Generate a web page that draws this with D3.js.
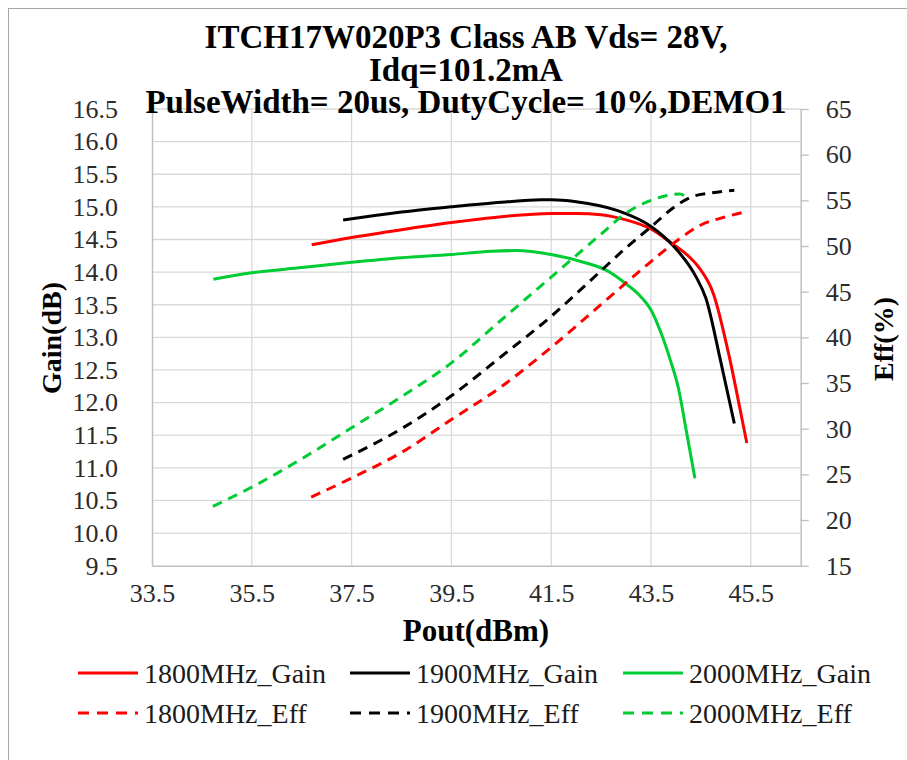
<!DOCTYPE html>
<html>
<head>
<meta charset="utf-8">
<script src="https://cdn.jsdelivr.net/npm/d3@7"></script>
<style>
    body { margin: 0; background: #fff; }
    svg { display: block; font-family: "Liberation Serif", "Times New Roman", serif; }
</style>
</head>
<body>
<div id="container"></div>
<script>
"use strict"

/* DATA
 */
const titleLines = [
    "ITCH17W020P3 Class AB Vds= 28V,",
    "Idq=101.2mA",
    "PulseWidth= 20us, DutyCycle= 10%,DEMO1"
];

const xTicks = [33.5, 35.5, 37.5, 39.5, 41.5, 43.5, 45.5];
const gainTicks = [9.5, 10.0, 10.5, 11.0, 11.5, 12.0, 12.5, 13.0, 13.5,
                   14.0, 14.5, 15.0, 15.5, 16.0, 16.5];
const effTicks = [15, 20, 25, 30, 35, 40, 45, 50, 55, 60, 65];

// [Pout dBm, Gain dB]
const gain1800 = [[36.7, 14.42], [37.5, 14.53], [38.5, 14.65], [39.5, 14.76],
                  [40.5, 14.85], [41.5, 14.90], [42.0, 14.90], [42.5, 14.88],
                  [43.0, 14.80], [43.5, 14.66], [43.9, 14.45], [44.2, 14.28],
                  [44.45, 14.08], [44.75, 13.67], [45.07, 12.70], [45.3, 11.84],
                  [45.42, 11.38]];
const gain1900 = [[37.33, 14.80], [38.0, 14.87], [38.5, 14.92], [39.5, 15.00],
                  [40.5, 15.07], [41.3, 15.11], [41.5, 15.11], [42.0, 15.08],
                  [42.8, 14.95], [43.5, 14.70], [43.95, 14.40], [44.4, 13.93],
                  [44.6, 13.60], [44.9, 12.62], [45.17, 11.68]];
const gain2000 = [[34.73, 13.89], [35.5, 13.99], [36.5, 14.07], [37.5, 14.15],
                  [38.5, 14.22], [39.5, 14.27], [40.3, 14.32], [40.8, 14.33],
                  [41.5, 14.27], [42.2, 14.14], [42.6, 14.03], [43.0, 13.82],
                  [43.3, 13.62], [43.5, 13.42], [43.7, 13.07], [43.9, 12.62],
                  [44.05, 12.22], [44.2, 11.60], [44.38, 10.84]];

// [Pout dBm, Eff %]
const eff1800 = [[36.69, 22.5], [37.5, 24.6], [38.5, 27.4], [39.5, 31.0],
                 [40.5, 34.6], [41.5, 38.9], [42.5, 43.6], [43.5, 48.3],
                 [44.0, 50.5], [44.5, 52.3], [45.0, 53.2], [45.43, 53.8]];
const eff1900 = [[37.33, 26.65], [38.5, 30.0], [39.5, 33.6], [40.5, 37.9],
                 [41.5, 42.3], [42.5, 47.3], [43.0, 49.8], [43.5, 52.1],
                 [44.0, 54.4], [44.33, 55.4], [44.7, 55.8], [45.17, 56.1]];
const eff2000 = [[34.72, 21.5], [35.5, 23.6], [36.5, 26.7], [37.5, 30.1],
                 [38.5, 33.5], [39.5, 37.2], [40.5, 41.9], [41.5, 46.6],
                 [42.5, 51.3], [43.0, 53.6], [43.5, 55.0], [43.8, 55.5],
                 [44.07, 55.7], [44.22, 55.3]];

const series = [
    { name: "1800MHz_Gain", data: gain1800, axis: "gain", color: "#ff0000", dash: null },
    { name: "1900MHz_Gain", data: gain1900, axis: "gain", color: "#000000", dash: null },
    { name: "2000MHz_Gain", data: gain2000, axis: "gain", color: "#00cc33", dash: null },
    { name: "1800MHz_Eff",  data: eff1800,  axis: "eff",  color: "#ff0000", dash: "10,7" },
    { name: "1900MHz_Eff",  data: eff1900,  axis: "eff",  color: "#000000", dash: "10,7" },
    { name: "2000MHz_Eff",  data: eff2000,  axis: "eff",  color: "#00cc33", dash: "10,7" }
];

/* CHART
 */
const width = 907, height = 760;
const plot = { left: 152, top: 109, right: 800.7, bottom: 565.7 };

const svg = d3.select("#container").append("svg")
    .attr("width", width)
    .attr("height", height);

svg.append("rect")
    .attr("x", 8.5).attr("y", 8.5)
    .attr("width", 920).attr("height", 800)
    .style("fill", "#fff")
    .style("stroke", "#a6a6a6");

const x = d3.scaleLinear().domain([33.5, 46.5]).range([plot.left, plot.right]);
const yGain = d3.scaleLinear().domain([9.5, 16.5]).range([plot.bottom, plot.top]);
const yEff = d3.scaleLinear().domain([15, 65]).range([plot.bottom, plot.top]);

// grid
svg.append("g")
    .selectAll("line.h")
    .data(gainTicks.slice(1))
    .enter().append("line")
    .attr("x1", plot.left).attr("x2", plot.right)
    .attr("y1", (d) => yGain(d)).attr("y2", (d) => yGain(d))
    .style("stroke", "#d9d9d9").style("stroke-width", 1.3);

svg.append("g")
    .selectAll("line.v")
    .data(xTicks.slice(1))
    .enter().append("line")
    .attr("x1", (d) => x(d)).attr("x2", (d) => x(d))
    .attr("y1", plot.top).attr("y2", plot.bottom)
    .style("stroke", "#d9d9d9").style("stroke-width", 1.3);

// axes
const styleAxis = (g) => {
    g.select(".domain").style("stroke", "#bfbfbf").style("stroke-width", 1.5);
    g.selectAll(".tick line").style("stroke", "#bfbfbf").style("stroke-width", 1.3);
    g.selectAll(".tick text")
        .style("font-family", "Liberation Serif, Times New Roman, serif")
        .style("font-size", "26px")
        .style("fill", "#2b2b2b");
};

svg.append("g")
    .attr("transform", `translate(${plot.left},0)`)
    .call(d3.axisLeft(yGain).tickValues(gainTicks).tickFormat(d3.format(".1f"))
        .tickSize(0).tickPadding(34))
    .call(styleAxis);

svg.append("g")
    .attr("transform", `translate(${plot.right},0)`)
    .call(d3.axisRight(yEff).tickValues(effTicks).tickFormat(d3.format("d"))
        .tickSizeInner(8).tickSizeOuter(0).tickPadding(17))
    .call(styleAxis);

svg.append("g")
    .attr("transform", `translate(0,${plot.bottom})`)
    .call(d3.axisBottom(x).tickValues(xTicks).tickFormat(d3.format(".1f"))
        .tickSize(0).tickPadding(18))
    .call(styleAxis);

// lines
const lineGen = (ys) => d3.line()
    .curve(d3.curveMonotoneX)
    .x((d) => x(d[0]))
    .y((d) => ys(d[1]));

svg.append("g")
    .selectAll("path")
    .data(series)
    .enter().append("path")
    .attr("d", (s) => lineGen(s.axis == "gain" ? yGain : yEff)(s.data))
    .style("fill", "none")
    .style("stroke", (s) => s.color)
    .style("stroke-width", 3)
    .style("stroke-dasharray", (s) => s.dash);

/* TEXT
 */
svg.append("g")
    .selectAll("text")
    .data(titleLines)
    .enter().append("text")
    .attr("x", 466)
    .attr("y", (d, i) => 48 + i * 32.5)
    .attr("text-anchor", "middle")
    .style("font-size", "33px")
    .style("font-weight", "bold")
    .text((d) => d);

svg.append("text")
    .attr("x", 476).attr("y", 641)
    .attr("text-anchor", "middle")
    .style("font-size", "31px").style("font-weight", "bold")
    .text("Pout(dBm)");

svg.append("text")
    .attr("transform", "translate(61,338) rotate(-90)")
    .attr("text-anchor", "middle")
    .style("font-size", "28px").style("font-weight", "bold")
    .text("Gain(dB)");

svg.append("text")
    .attr("transform", "translate(893,339) rotate(-90)")
    .attr("text-anchor", "middle")
    .style("font-size", "28px").style("font-weight", "bold")
    .text("Eff(%)");

/* LEGEND
 */
const legendCols = [78, 350, 623];
const legendRows = [673, 713];

const legend = svg.append("g")
    .selectAll("g")
    .data(series)
    .enter().append("g")
    .attr("transform", (d, i) =>
        `translate(${legendCols[i % 3]},${legendRows[Math.floor(i / 3)]})`);

legend.append("line")
    .attr("x1", 0).attr("x2", 60)
    .style("stroke", (s) => s.color)
    .style("stroke-width", 3)
    .style("stroke-dasharray", (s) => s.dash ? "11,8" : null);

legend.append("text")
    .attr("x", 66).attr("dy", "0.34em")
    .style("font-size", "28px")
    .style("fill", "#1a1a1a")
    .text((s) => s.name);
</script>
</body>
</html>
